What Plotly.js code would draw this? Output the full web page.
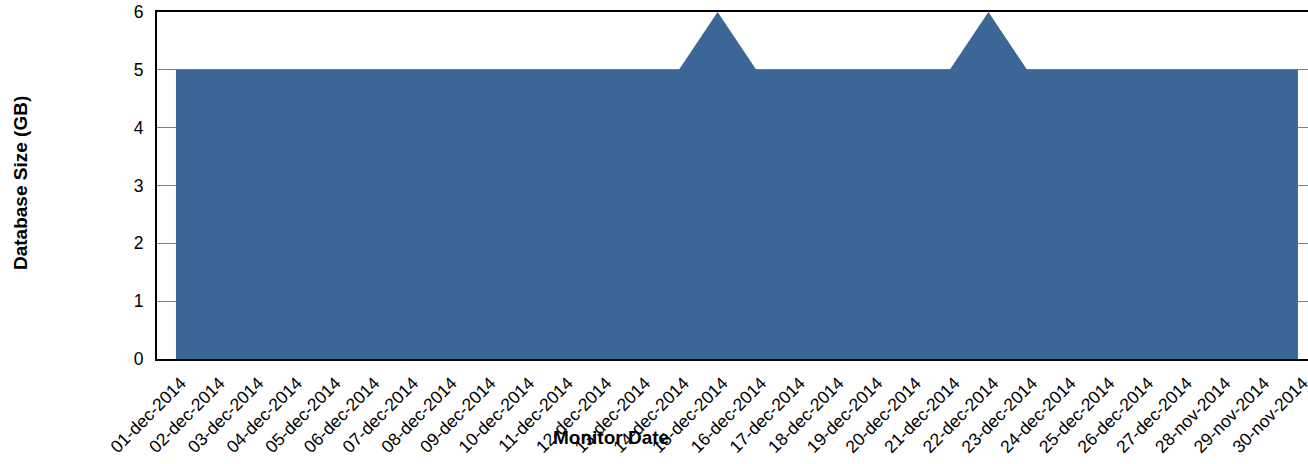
<!DOCTYPE html>
<html>
<head>
<meta charset="utf-8">
<script src="https://cdn.plot.ly/plotly-3.0.1.min.js"></script>
<style>html,body{margin:0;padding:0;background:#fff;}#chart{width:1308px;height:464px;}</style>
</head>
<body>
<div id="chart"></div>
<script>
var dates = ["01-dec-2014","02-dec-2014","03-dec-2014","04-dec-2014","05-dec-2014","06-dec-2014","07-dec-2014","08-dec-2014","09-dec-2014","10-dec-2014","11-dec-2014","12-dec-2014","13-dec-2014","14-dec-2014","15-dec-2014","16-dec-2014","17-dec-2014","18-dec-2014","19-dec-2014","20-dec-2014","21-dec-2014","22-dec-2014","23-dec-2014","24-dec-2014","25-dec-2014","26-dec-2014","27-dec-2014","28-nov-2014","29-nov-2014","30-nov-2014"];
var sizeGB = [5,5,5,5,5,5,5,5,5,5,5,5,5,5,6,5,5,5,5,5,5,6,5,5,5,5,5,5,5,5];
var yTicks = [0,1,2,3,4,5,6];

var trace = {
  x: dates, y: sizeGB, type: 'scatter', mode: 'none',
  fill: 'tozeroy', fillcolor: '#3b6696', hoverinfo: 'x+y'
};
var layout = {
  width: 1308, height: 464,
  margin: {l: 157, r: 0, t: 12, b: 105},
  paper_bgcolor: '#fff', plot_bgcolor: '#fff',
  font: {family: 'Liberation Sans, Arial, sans-serif', color: '#000'},
  showlegend: false,
  xaxis: {
    type: 'category', range: [-0.49, 29.26],
    showgrid: false, zeroline: false,
    showline: true, linecolor: '#000', linewidth: 2, mirror: true,
    ticks: '', tickangle: -45, tickfont: {size: 17.5},
    ticklabelshift: 5, ticklabelstandoff: 5,
    automargin: false
  },
  yaxis: {
    range: [0, 6], tickvals: yTicks,
    showgrid: true, gridcolor: '#808080', gridwidth: 1,
    zeroline: false, showline: true, linecolor: '#000', linewidth: 2,
    ticks: '', ticklabelstandoff: 8, tickfont: {size: 17.5},
    automargin: false
  },
  annotations: [{
    text: '<b>Monitor Date</b>', xref: 'paper', yref: 'paper',
    x: (611 - 157) / 1151, y: -(437 - 359) / 347, xanchor: 'center', yanchor: 'middle',
    showarrow: false, font: {size: 19}
  }, {
    text: '<b>Database Size (GB)</b>', xref: 'paper', yref: 'paper', textangle: -90,
    x: (20 - 157) / 1151, y: (359 - 183) / 347, xanchor: 'center', yanchor: 'middle',
    showarrow: false, font: {size: 19}
  }]
};
Plotly.newPlot('chart', [trace], layout, {displayModeBar: false, staticPlot: true});
</script>
</body>
</html>
